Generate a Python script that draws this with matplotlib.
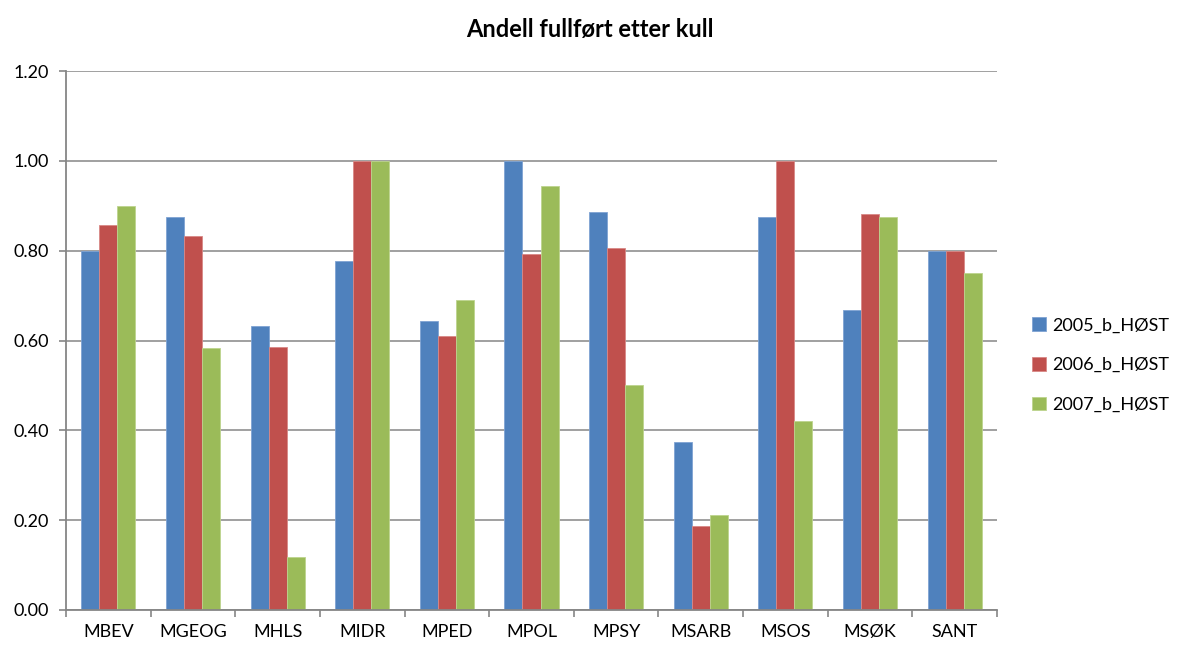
import matplotlib
matplotlib.use("Agg")
import matplotlib.pyplot as plt
import numpy as np

categories = ["MBEV", "MGEOG", "MHLS", "MIDR", "MPED", "MPOL", "MPSY", "MSARB", "MSOS", "MSØK", "SANT"]
s2005 = [0.800, 0.875, 0.633, 0.778, 0.643, 1.000, 0.885, 0.375, 0.875, 0.667, 0.800]
s2006 = [0.857, 0.833, 0.586, 1.000, 0.611, 0.792, 0.806, 0.1875, 1.000, 0.882, 0.800]
s2007 = [0.900, 0.583, 0.118, 1.000, 0.690, 0.944, 0.500, 0.211, 0.421, 0.875, 0.750]
series_names = ["2005_b_HØST", "2006_b_HØST", "2007_b_HØST"]
yticks = [0.0, 0.2, 0.4, 0.6, 0.8, 1.0, 1.2]

plt.rcParams['font.family'] = ['Lato', 'DejaVu Sans']

fig = plt.figure(figsize=(11.79, 6.54), dpi=100)
ax = fig.add_axes([66/1179, 1 - 610/654, (997-66)/1179, (610-71)/654])

colors = ["#4F81BD", "#C0504D", "#9BBB59"]
edges = ["#7FA3D3", "#D98886", "#BDD48E"]
x = np.arange(len(categories))
w = 0.213
for i, (vals, name) in enumerate(zip([s2005, s2006, s2007], series_names)):
    ax.bar(x + (i - 1) * w, vals, width=w, color=colors[i], edgecolor=edges[i],
           linewidth=0.6, label=name, zorder=3)

ax.set_ylim(0, 1.2)
ax.set_xlim(-0.5, len(categories) - 0.5)
ax.set_yticks(yticks)
ax.set_yticklabels([f"{v:.2f}" for v in yticks], fontsize=13)
ax.set_xticks(x)
ax.set_xticklabels(categories, fontsize=13)
ax.tick_params(axis='x', which='major', length=0, pad=10)
ax.set_xticks(np.arange(-0.5, len(categories) + 0.5, 1), minor=True)
ax.tick_params(axis='x', which='minor', length=5, color="#868686", width=1.2, direction='out')
ax.tick_params(axis='y', length=5, color="#868686", width=1.2, direction='out', pad=7)

ax.grid(axis='y', color="#868686", linewidth=1.1, zorder=0)
for s in ['top', 'right']:
    ax.spines[s].set_visible(False)
for s in ['left', 'bottom']:
    ax.spines[s].set_color("#868686")
    ax.spines[s].set_linewidth(1.3)
    ax.spines[s].set_zorder(4)

fig.text(590/1179, 1 - 30/654, "Andell fullført etter kull", ha='center', va='center',
         fontsize=17, fontweight='bold')

leg = ax.legend(loc='center left', bbox_to_anchor=(1028/1179, 1 - 365/654),
                bbox_transform=fig.transFigure, frameon=False, fontsize=13,
                borderaxespad=0, borderpad=0.2,
                handlelength=0.8, handleheight=0.8, labelspacing=1.3, handletextpad=0.35)

fig.savefig("out.png", dpi=100, facecolor='white')
